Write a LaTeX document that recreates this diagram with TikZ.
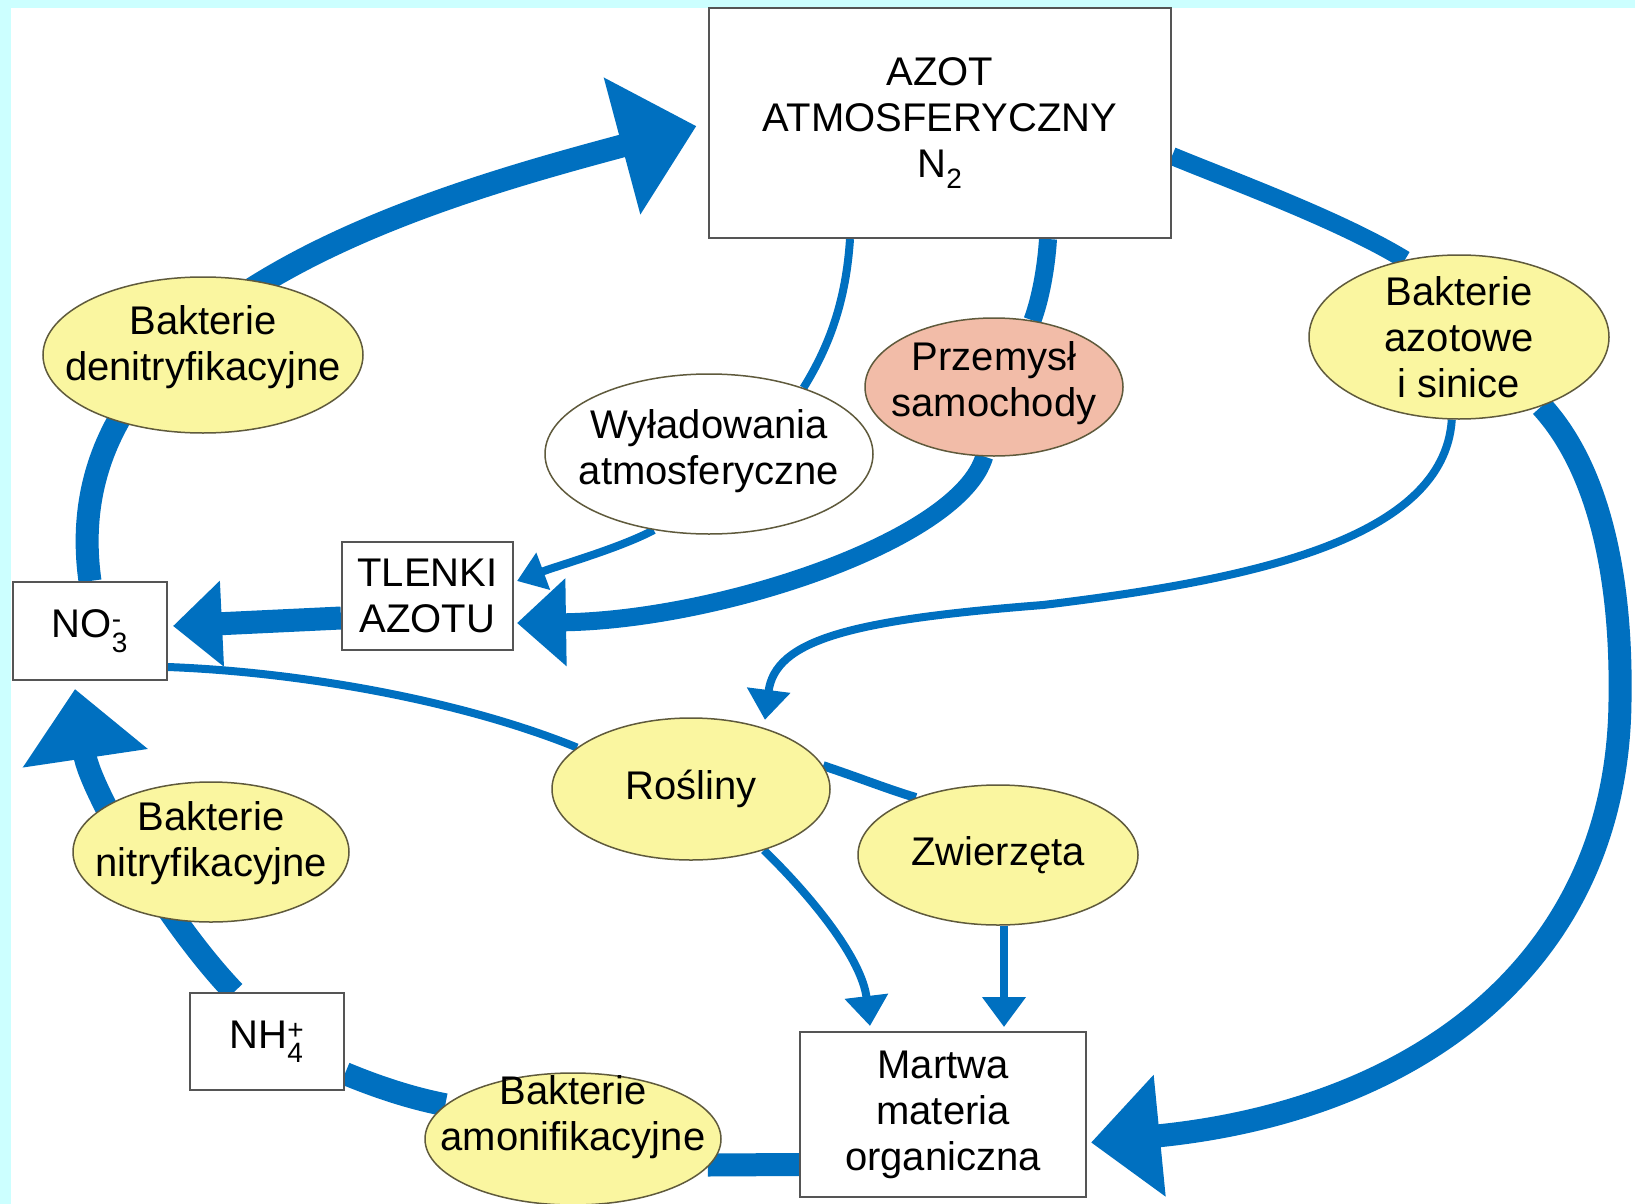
\documentclass[tikz,border=0pt]{standalone}
\usepackage{amsmath}
\usepackage{fontspec}
\setmainfont{Liberation Sans}
\usetikzlibrary{arrows.meta,shapes.geometric,calc,backgrounds}

\definecolor{sky}{RGB}{204,255,255}
\definecolor{flow}{RGB}{0,112,192}
\definecolor{pale}{RGB}{250,246,160}
\definecolor{salmon}{RGB}{242,188,168}
\definecolor{rim}{RGB}{95,90,60}
\definecolor{frame}{RGB}{85,85,85}

\tikzset{every picture/.style={line width=0.75pt}}
\tikzset{
  box/.style={draw=frame, line width=2pt, fill=white, inner sep=0pt, align=center, font=\fontsize{40}{46}\selectfont},
  oval/.style={ellipse, draw=rim, line width=1.5pt, fill=pale, inner sep=0pt},
  txt/.style={inner sep=0pt, align=center, font=\fontsize{40}{46}\selectfont},
  flowS/.style={draw=flow, line width=8pt},
  flowM/.style={draw=flow, line width=18pt},
  flowL/.style={draw=flow, line width=23pt},
  bighead/.style 2 args={-{Triangle[width=#1,length=#2]}}
}

\begin{document}
\begin{tikzpicture}[x=1pt,y=1pt,yscale=-1,xscale=1]
\useasboundingbox (0,0) rectangle (1635,1204);

%Shape: Rectangle
\node[box, minimum width=462, minimum height=230] (azot) at (940,123) {AZOT\\ATMOSFERYCZNY\\N$_{\text{2}}$};
%Shape: Rectangle
\node[box, minimum width=154, minimum height=98] (no3) at (90,631) {NO$^{\text{-}}_{\text{3}}$};
%Shape: Rectangle
\node[box, minimum width=171, minimum height=108] (tlenki) at (427.5,596) {TLENKI\\AZOTU};
%Shape: Rectangle
\node[box, minimum width=154, minimum height=97] (nh4) at (267,1041.5) {NH$^{\text{+}}_{\text{4}}$};
%Shape: Rectangle
\node[box, minimum width=286, minimum height=165] (martwa) at (943,1114.5) {Martwa\\materia\\organiczna};

%Shape: Ellipse
\node[oval, minimum width=320, minimum height=156] (denit) at (203,355) {};
%Shape: Ellipse
\node[oval, fill=white, minimum width=328, minimum height=160] (wyl) at (709,454) {};
%Shape: Ellipse
\node[oval, fill=salmon, minimum width=258, minimum height=138] (przem) at (994,387) {};
%Shape: Ellipse
\node[oval, minimum width=300, minimum height=164] (azotowe) at (1459,337) {};
%Shape: Ellipse
\node[oval, minimum width=278, minimum height=142] (rosl) at (691,789) {};
%Shape: Ellipse
\node[oval, minimum width=280, minimum height=140] (zwierz) at (998,855) {};
%Shape: Ellipse
\node[oval, minimum width=276, minimum height=140] (nitr) at (211,852) {};
%Shape: Ellipse
\node[oval, minimum width=296, minimum height=132] (amon) at (573,1139) {};

% Text Node
\node[txt] (denit-t) at ($(denit)+(0,-8)$) {Bakterie\\denitryfikacyjne};
% Text Node
\node[txt] (wyl-t) at ($(wyl)+(0,-3)$) {Wyładowania\\atmosferyczne};
% Text Node
\node[txt] (przem-t) at ($(przem)+(0,-4)$) {Przemysł\\samochody};
% Text Node
\node[txt] (azotowe-t) at (azotowe) {Bakterie\\azotowe\\i sinice};
% Text Node
\node[txt] (rosl-t) at (rosl) {Rośliny};
% Text Node
\node[txt] (zwierz-t) at (zwierz) {Zwierzęta};
% Text Node
\node[txt] (nitr-t) at ($(nitr)+(0,-9)$) {Bakterie\\nitryfikacyjne};
% Text Node
\node[txt] (amon-t) at ($(amon)+(0,-22)$) {Bakterie\\amonifikacyjne};

\begin{scope}[on background layer]
%Shape: Rectangle
\fill[sky] (0,0) rectangle (1635,1204);
\fill[white] (11,8) rectangle (1635,1204);

%Curve Lines
\draw[flowL, bighead={137pt}{77pt}, shorten >=12pt] (no3.north) .. controls (51,305) and (420,200) .. (azot.west);
%Straight Lines
\draw[flowL, bighead={83pt}{49pt}] ($(tlenki.west)+(0,22)$) -- ($(no3.east)+(5,-5)$);
%Curve Lines
\draw[flowS] ($(azot.south)+(-90,0)$) .. controls (846,300) and (830,345) .. (wyl.35);
%Curve Lines
\draw[flowM] ($(azot.south)+(108,0)$) .. controls (1046,270) and (1040,300) .. (przem.60);
%Curve Lines
\draw[flowM, bighead={85pt}{49pt}] (przem.262) .. controls (960,540) and (720,620) .. ($(tlenki.east)+(3,27)$);
%Curve Lines
\draw[flowS, bighead={38pt}{28pt}] (wyl.234) .. controls (620,548) and (560,565) .. ($(tlenki.east)+(3,-15)$);
%Curve Lines
\draw[flowM] ($(azot.east)+(0,33)$) .. controls (1230,180) and (1340,220) .. (azotowe.125);
%Curve Lines
\draw[flowL, bighead={118pt}{69pt}] (azotowe.-40) .. controls (1600,470) and (1622,580) .. (1620,700)
  .. controls (1618,960) and (1420,1110) .. ($(martwa.east)+(4,28)$);
%Curve Lines
\draw[flowS, bighead={42pt}{30pt}, shorten >=8pt] (azotowe.265) .. controls (1444,540) and (1250,580) .. (1043,605)
  .. controls (850,620) and (775,640) .. (rosl.40);
%Curve Lines
\draw[flowS] ($(no3.east)+(0,36)$) .. controls (300,672) and (460,700) .. (rosl.160);
%Curve Lines
\draw[flowS, line width=9pt] (rosl.10) .. controls (860,778) and (890,790) .. (zwierz.145);
%Curve Lines
\draw[flowS, bighead={42pt}{30pt}] (rosl.320) .. controls (815,900) and (862,960) .. ($(martwa.north west)+(71,-5)$);
%Straight Lines
\draw[flowS, bighead={42pt}{30pt}] ($(zwierz.south)+(6,0)$) -- ($(martwa.north)+(61,-4)$);
%Straight Lines
\draw[flowL] ($(martwa.west)+(0,50)$) -- ($(amon.east)+(-14,26)$);
%Curve Lines
\draw[flowL] (amon.165) .. controls (410,1098) and (375,1086) .. ($(nh4.east)+(0,32)$);
%Curve Lines
\draw[flowL, bighead={122pt}{70pt}] ($(nh4.north west)+(45,0)$) .. controls (166,921) and (90,790) .. ($(no3.south)+(-15,8)$);
\end{scope}

\end{tikzpicture}
\end{document}
